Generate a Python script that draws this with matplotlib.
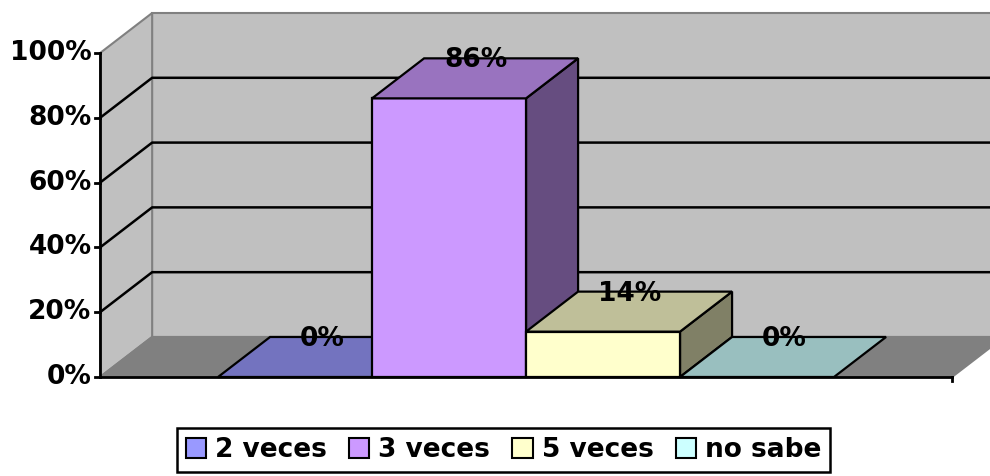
import matplotlib.pyplot as plt
from matplotlib.patches import Polygon, Patch

# ----------------------------------
# data
# ----------------------------------
categories = ["2 veces", "3 veces", "5 veces", "no sabe"]
values = [0, 86, 14, 0]
labels = ["0%", "86%", "14%", "0%"]
front_colors = ["#9999FF", "#CC99FF", "#FFFFCC", "#CCFFFF"]
tick_values = [0, 20, 40, 60, 80, 100]
tick_labels = ["0%", "20%", "40%", "60%", "80%", "100%"]

# ----------------------------------
# 3d-ish layout (data units: x = categories, y = percent)
# ----------------------------------
bar_w = 1.0
margin = 0.766          # floor space left/right of the bars
dx, dy = 0.338, 12.35   # depth offset of the back wall
ymax = 100

x0 = -bar_w / 2 - margin
x1 = len(values) - 1 + bar_w / 2 + margin

plt.rcParams["font.family"] = ["DejaVu Sans"]
fig = plt.figure(figsize=(9.9, 4.76), dpi=100)
ax = fig.add_axes([0, 0, 1, 1])
ax.set_xlim(-1.916, 4.513)
ax.set_ylim(-30.56, 116.36)
ax.axis("off")


def shade(hexcol, f):
    r, g, b = (int(hexcol[i:i + 2], 16) / 255 for i in (1, 3, 5))
    return (r * f, g * f, b * f)


def poly(pts, fc, ec="black", lw=1.6, z=1):
    ax.add_patch(Polygon(pts, closed=True, facecolor=fc, edgecolor=ec,
                         linewidth=lw, zorder=z, joinstyle="miter"))


# walls and floor
wall = "#C0C0C0"
edge = "#808080"
poly([(x0 + dx, dy), (x1 + dx, dy), (x1 + dx, ymax + dy), (x0 + dx, ymax + dy)],
     wall, edge, 1.5)
poly([(x0, 0), (x0 + dx, dy), (x0 + dx, ymax + dy), (x0, ymax)], wall, edge, 1.5)
poly([(x0, 0), (x0 + dx, dy), (x1 + dx, dy), (x1, 0)], "#808080", edge, 1.5)

# gridlines on walls
for t in tick_values[1:-1]:
    ax.plot([x0, x0 + dx, x1 + dx], [t, t + dy, t + dy], color="black",
            lw=1.8, zorder=2)

# bars
for i, (v, c) in enumerate(zip(values, front_colors)):
    l, r = i - bar_w / 2, i + bar_w / 2
    z = 3 + i
    if v > 0:
        poly([(r, 0), (r + dx, dy), (r + dx, v + dy), (r, v)], shade(c, 0.5), z=z)
        poly([(l, 0), (r, 0), (r, v), (l, v)], c, z=z)
    poly([(l, v), (r, v), (r + dx, v + dy), (l + dx, v + dy)], shade(c, 0.75), z=z)
    ax.text(i + dx * 0.52, v + dy - 0.6, labels[i], ha="center", va="center",
            fontsize=19, fontweight="bold", zorder=10)

# front floor edge and value axis
ax.plot([x0, x1], [0, 0], color="black", lw=2, zorder=8)
ax.plot([x1, x1], [0, -1.3], color="black", lw=2, zorder=8)
ax.plot([x0, x0], [0, ymax], color="black", lw=2, zorder=8)
for t, lab in zip(tick_values, tick_labels):
    ax.plot([x0 - 0.035, x0], [t, t], color="black", lw=2, zorder=8)
    ax.text(x0 - 0.055, t, lab, ha="right", va="center", fontsize=19,
            fontweight="bold")

# legend
handles = [Patch(facecolor=c, edgecolor="black", linewidth=1.5) for c in front_colors]
leg = fig.legend(handles, categories, loc="lower center", ncol=4,
                 bbox_to_anchor=(0.5086, 0.008), frameon=True, fancybox=False,
                 edgecolor="black", framealpha=1, prop={"weight": "bold", "size": 19},
                 handlelength=0.76, handleheight=0.8, handletextpad=0.34,
                 columnspacing=0.85, borderpad=0.35, borderaxespad=0)
leg.get_frame().set_linewidth(1.8)

fig.savefig("out.png", dpi=100)
